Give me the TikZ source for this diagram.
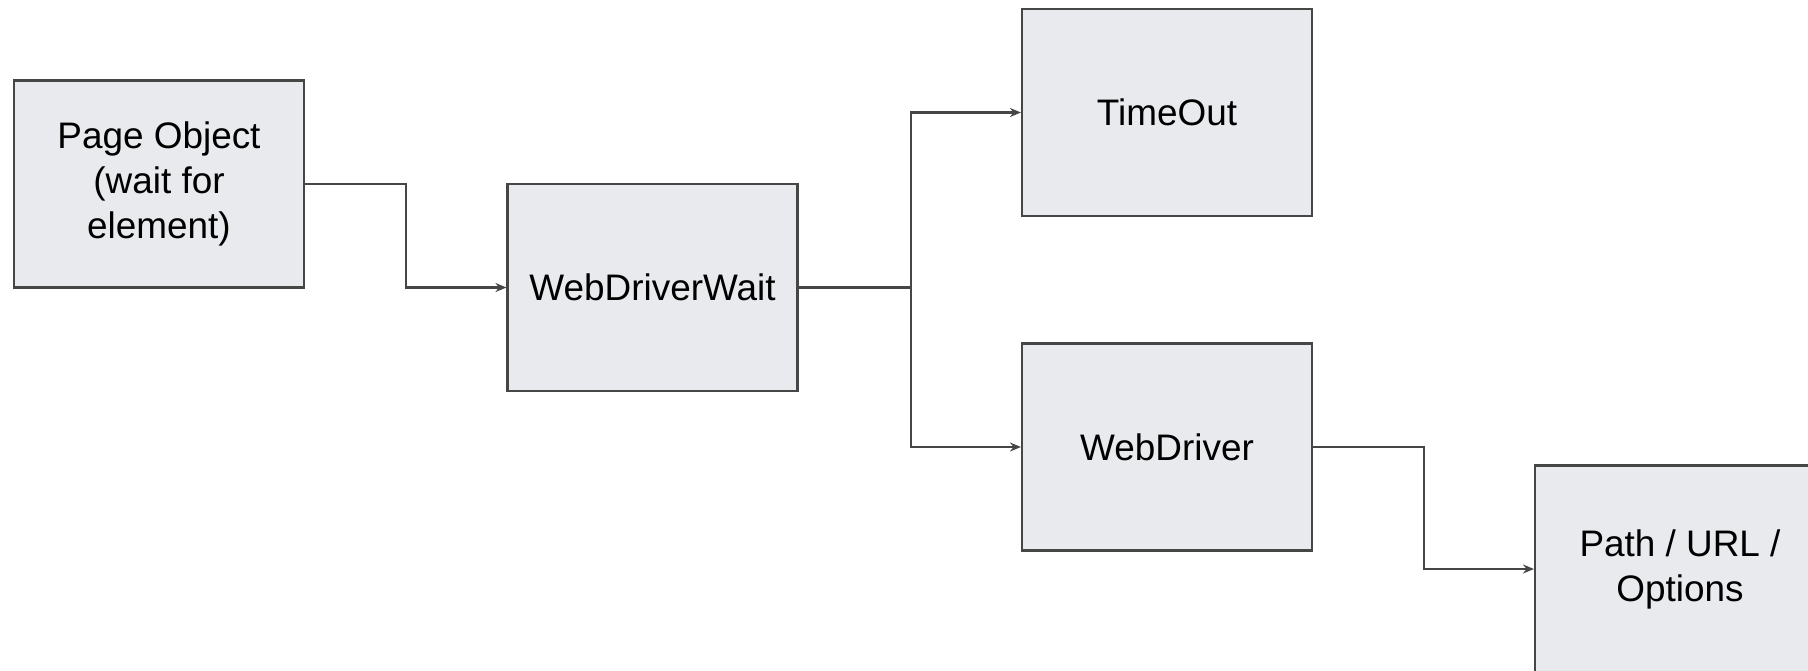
\documentclass[tikz,border=0pt]{standalone}
\usepackage{fontspec}
\setmainfont{Liberation Sans}
\usepackage{tikz}
\usetikzlibrary{arrows.meta}
\usepackage{xcolor}
\definecolor{boxfill}{RGB}{232,234,237}
\definecolor{boxline}{RGB}{70,70,70}

\begin{document}
\begin{tikzpicture}[
		blok/.style={draw=boxline, fill=boxfill, line width=0.6pt, minimum width=2.9cm, minimum height=2.07cm,
			align=center, text=black, font=\fontsize{10.5}{12.8}\selectfont},
		>={Stealth[length=1.1mm, width=0.9mm]}
	]
		\clip (0,0) rectangle (18.08,-6.70);
		\fill[white] (0,0) rectangle (18.08,-6.70);

		\node[blok] (PO) at (1.59,-1.84) {Page Object\\(wait for\\element)};
		\node[blok] (WDW) at (6.525,-2.875) {WebDriverWait};
		\node[blok] (TO) at (11.67,-1.125) {TimeOut};
		\node[blok] (WD) at (11.67,-4.47) {WebDriver};
		\node[blok] (PU) at (16.80,-5.69) {Path / URL /\\Options};

		\draw [->, boxline, line width=0.6pt] (PO.east) -- ++(1.01,0) |- (WDW.west);
		\draw [->, boxline, line width=0.6pt] (WDW.east) -- ++(1.12,0) |- (TO.west);
		\draw [->, boxline, line width=0.6pt] (WDW.east) -- ++(1.12,0) |- (WD.west);
		\draw [->, boxline, line width=0.6pt] (WD.east) -- ++(1.11,0) |- (PU.west);
\end{tikzpicture}
\end{document}
